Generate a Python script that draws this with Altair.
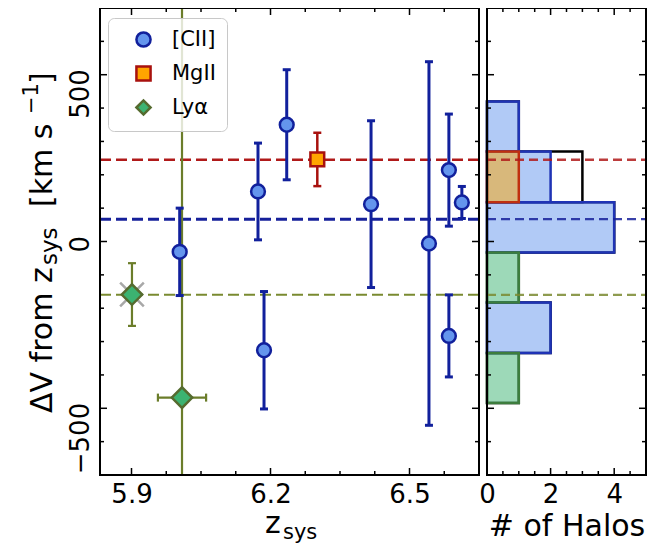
import altair as alt
import pandas as pd

FONT = "DejaVu Sans"

# ---------------- data ----------------
# [CII] haloes
cii_z = [6.004, 6.173, 6.235, 6.186, 6.417, 6.542, 6.585, 6.585, 6.613]
cii_dv = [-31, 150, 350, -326, 112, -6, 214, -283, 117]
cii_err = [131, 145, 165, 176, 250, 545, 168, 123, 48]
# MgII
mg_z = [6.301]
mg_dv = [246]
mg_err = [80]
# Ly-alpha
lya_z = [5.901, 6.009]
lya_dv = [-159, -468]
lya_err = [94, 2000]
lya_zerr = [0.0, 0.052]
# flagged (grey cross) object
flag_z = [5.901]
flag_dv = [-159]

# mean offsets (dashed lines)
mean_series = ["[CII]", "MgII", "Lyα"]
mean_dv = [67, 245, -160]

# histogram bins (edges in km/s, counts)
tot_lo = [270, 118, -33, -183, -334, -484]
tot_hi = [420, 270, 118, -33, -183, -334]
tot_n = [1, 3, 4, 1, 2, 1]
hcii_lo = [270, 118, -33, -334]
hcii_hi = [420, 270, 118, -183]
hcii_n = [1, 2, 4, 2]
hmg_lo = [118]
hmg_hi = [270]
hmg_n = [1]
hlya_lo = [-183, -484]
hlya_hi = [-33, -334]
hlya_n = [1, 1]

# tick values
y_major = [-500, 0, 500]
y_minor = [-600, -400, -300, -200, -100, 100, 200, 300, 400, 600]
zl_major = [5.9, 6.2, 6.5]
zl_minor = [5.975, 6.05, 6.125, 6.275, 6.35, 6.425, 6.575]
n_major = [0, 2, 4]
n_minor = [0.5, 1, 1.5, 2.5, 3, 3.5, 4.5]

series_dom = ["[CII]", "MgII", "Lyα"]

# ---------------- styles ----------------
CII_FILL, CII_EDGE = "#6495ed", "#11209c"
MG_FILL, MG_EDGE = "#ffa500", "#a8110e"
LYA_FILL, LYA_EDGE = "#3cb371", "#556b2f"
OLIVE = "#6b7d2a"
MEAN_COL = {"[CII]": "#16209a", "MgII": "#b01a1a", "Lyα": "#7a8a30"}
MEAN_W = {"[CII]": 3, "MgII": 2.5, "Lyα": 2}

W_L, R0, W, H = 379, 387, 546, 467
MAJ, MIN = 7, 4

xl_scale = alt.Scale(domain=[5.832, 6.65], range=[0, W_L], nice=False, zero=False)
xr_scale = alt.Scale(domain=[0, 5], range=[R0, W], nice=False, zero=False)
y_scale = alt.Scale(domain=[-700, 700], nice=False, zero=False)

common_lab = dict(labelFontSize=26, labelFont=FONT, labelColor="black",
                  labelFlush=False, labelOverlap=False, ticks=False,
                  domain=False, grid=False)
xl_axis = alt.Axis(orient="bottom", values=zl_major, format=".1f", title=None,
                   labelPadding=6, **common_lab)
xr_axis = alt.Axis(orient="bottom", values=n_major, format="d", title="# of Halos",
                   titleFontSize=30, titleFont=FONT, titleFontWeight="normal",
                   titleColor="black", titleBaseline="alphabetic", titleY=60,
                   labelPadding=6, **common_lab)
y_axis = alt.Axis(orient="left", values=y_major, title=None, labelAngle=270,
                  labelAlign="right", labelBaseline="bottom", labelPadding=7,
                  labelOffset=-6, **common_lab)


def XL(f):
    return alt.X(f, type="quantitative", scale=xl_scale, axis=xl_axis)


def XR(f):
    return alt.X(f, type="quantitative", scale=xr_scale, axis=xr_axis)


def Y(f):
    return alt.Y(f, type="quantitative", scale=y_scale, axis=y_axis)


leg = alt.Legend(title=None, orient="none", legendX=8, legendY=10,
                 fillColor="rgba(255,255,255,0.8)", strokeColor="#c8c8c8",
                 cornerRadius=6, padding=11, labelFontSize=21, labelFont=FONT,
                 labelColor="black", symbolSize=200, symbolStrokeWidth=2.5,
                 rowPadding=9, symbolOffset=14, labelOffset=18)
shape_sc = alt.Scale(domain=series_dom, range=["circle", "square", "diamond"])
fill_sc = alt.Scale(domain=series_dom, range=[CII_FILL, MG_FILL, LYA_FILL])
stroke_sc = alt.Scale(domain=series_dom, range=[CII_EDGE, MG_EDGE, LYA_EDGE])

one = pd.DataFrame({"k": [0]})

cii = pd.DataFrame({"z": cii_z, "dv": cii_dv, "err": cii_err, "series": "[CII]"})
mg = pd.DataFrame({"z": mg_z, "dv": mg_dv, "err": mg_err, "series": "MgII"})
lya = pd.DataFrame({"z": lya_z, "dv": lya_dv, "err": lya_err, "zerr": lya_zerr,
                    "series": "Lyα"})
flag = pd.DataFrame({"z": flag_z, "dv": flag_dv})
pts = pd.concat([cii, mg, lya[["z", "dv", "err", "series"]]], ignore_index=True)
means = pd.DataFrame({"series": mean_series, "dv": mean_dv})


def errbars(df, color, width, cap=8, clip=False):
    b = alt.Chart(df).transform_calculate(lo="datum.dv - datum.err",
                                          hi="datum.dv + datum.err")
    bar = b.mark_rule(color=color, strokeWidth=width, clip=clip).encode(
        x=XL("z"), y=Y("lo"), y2="hi:Q")
    c1 = b.mark_tick(orient="horizontal", size=cap, thickness=width, color=color,
                     opacity=1, clip=clip).encode(x=XL("z"), y=Y("lo"))
    c2 = b.mark_tick(orient="horizontal", size=cap, thickness=width, color=color,
                     opacity=1, clip=clip).encode(x=XL("z"), y=Y("hi"))
    return [bar, c1, c2]


def txt(s, x, y, size, angle=0, align="left"):
    return alt.Chart(one).mark_text(text=s, font=FONT, fontSize=size, angle=angle,
                                    align=align, baseline="alphabetic",
                                    color="black").encode(x=alt.value(x), y=alt.value(y))


def yticks(vals, x0, x1):
    d = pd.DataFrame({"v": vals})
    return alt.Chart(d).mark_rule(color="black", strokeWidth=1.5).encode(
        x=alt.value(x0), x2=alt.value(x1), y=Y("v"))


def xticks(vals, enc, length):
    d = pd.DataFrame({"v": vals})
    t = alt.Chart(d).mark_rule(color="black", strokeWidth=1.5).encode(
        x=enc("v"), y=alt.value(0), y2=alt.value(length))
    b = alt.Chart(d).mark_rule(color="black", strokeWidth=1.5).encode(
        x=enc("v"), y=alt.value(H - length), y2=alt.value(H))
    return [t, b]


# ---------------- left panel ----------------
left_layers = []
for s in mean_series:
    left_layers.append(
        alt.Chart(means[means.series == s]).mark_rule(
            color=MEAN_COL[s], strokeWidth=MEAN_W[s], strokeDash=[11, 5]).encode(
            y=Y("dv"), x=alt.value(0), x2=alt.value(W_L)))

left_layers += errbars(lya, OLIVE, 2.2, clip=True)
hb = alt.Chart(lya).transform_filter("datum.zerr > 0").transform_calculate(
    zlo="datum.z - datum.zerr", zhi="datum.z + datum.zerr")
left_layers.append(hb.mark_rule(color=OLIVE, strokeWidth=2.2).encode(
    x=XL("zlo"), x2="zhi:Q", y=Y("dv")))
left_layers.append(hb.mark_tick(orient="vertical", size=8, thickness=2.2, color=OLIVE,
                                opacity=1).encode(x=XL("zlo"), y=Y("dv")))
left_layers.append(hb.mark_tick(orient="vertical", size=8, thickness=2.2, color=OLIVE,
                                opacity=1).encode(x=XL("zhi"), y=Y("dv")))
left_layers += errbars(cii, CII_EDGE, 3)
left_layers += errbars(mg, MG_EDGE, 2.5)

left_layers.append(alt.Chart(flag).mark_point(
    shape="M-1,-1L1,1M-1,1L1,-1", filled=False, stroke="#a8a8a8", strokeWidth=2.5,
    size=560, opacity=1).encode(x=XL("z"), y=Y("dv")))

enc_pts = dict(x=XL("z"), y=Y("dv"),
               shape=alt.Shape("series:N", scale=shape_sc, legend=leg),
               fill=alt.Fill("series:N", scale=fill_sc, legend=leg),
               stroke=alt.Stroke("series:N", scale=stroke_sc, legend=leg))
left_layers.append(alt.Chart(pts).transform_filter("datum.series != 'Lyα'").mark_point(
    filled=True, size=190, strokeWidth=2.5, opacity=1, fillOpacity=1).encode(**enc_pts))
left_layers.append(alt.Chart(pts).transform_filter("datum.series == 'Lyα'").mark_point(
    filled=True, size=420, strokeWidth=2.5, opacity=1, fillOpacity=1).encode(**enc_pts))

# inward ticks, left panel
left_layers.append(yticks(y_major, 0, MAJ))
left_layers.append(yticks(y_minor, 0, MIN))
left_layers.append(yticks(y_major, W_L - MAJ, W_L))
left_layers.append(yticks(y_minor, W_L - MIN, W_L))
left_layers += xticks(zl_major, XL, MAJ)
left_layers += xticks(zl_minor, XL, MIN)

left_layers.append(alt.Chart(one).mark_rect(filled=False, stroke="black",
                                            strokeWidth=2).encode(
    x=alt.value(0), x2=alt.value(W_L), y=alt.value(0), y2=alt.value(H)))

# axis titles built from pieces (sub/superscripts)
left_layers += [
    txt("z", 165, 525, 30),
    txt("sys", 183, 531, 21),
    txt("ΔV from z", -48, 405, 30, angle=270),
    txt("sys", -43, 257, 23, angle=270),
    txt("[km s", -48, 199, 30, angle=270),
    txt("−1", -62, 106, 21, angle=270),
    txt("]", -48, 76, 30, angle=270),
]

left = alt.layer(*left_layers)

# ---------------- right panel ----------------
def hist(lo, hi, n, fill, stroke, fop):
    d = pd.DataFrame({"lo": lo, "hi": hi, "n": n})
    return alt.Chart(d).transform_calculate(c0="0").mark_rect(
        fill=fill, fillOpacity=fop, stroke=stroke, strokeWidth=2.5).encode(
        x=XR("c0"), x2="n:Q", y=Y("lo"), y2="hi:Q")


right_layers = [
    hist(tot_lo, tot_hi, tot_n, "white", "black", 0),
    hist(hcii_lo, hcii_hi, hcii_n, CII_FILL, "#1f33b5", 0.5),
    hist(hmg_lo, hmg_hi, hmg_n, MG_FILL, "#c0300f", 0.5),
    hist(hlya_lo, hlya_hi, hlya_n, LYA_FILL, "#3d7d3d", 0.5),
]
for s in mean_series:
    right_layers.append(
        alt.Chart(means[means.series == s]).mark_rule(
            color=MEAN_COL[s], strokeWidth=2.4, strokeDash=[9, 5], opacity=0.85).encode(
            y=Y("dv"), x=alt.value(R0), x2=alt.value(W)))

right_layers.append(yticks(y_major, R0, R0 + MAJ))
right_layers.append(yticks(y_minor, R0, R0 + MIN))
right_layers.append(yticks(y_major, W - MAJ, W))
right_layers.append(yticks(y_minor, W - MIN, W))
right_layers += xticks(n_major, XR, MAJ)
right_layers += xticks(n_minor, XR, MIN)
right_layers.append(alt.Chart(one).mark_rect(filled=False, stroke="black",
                                             strokeWidth=2).encode(
    x=alt.value(R0), x2=alt.value(W), y=alt.value(0), y2=alt.value(H)))

right = alt.layer(*right_layers)

chart = alt.layer(left, right).resolve_scale(x="independent").properties(
    width=W, height=H,
    padding={"left": 92, "top": 0, "right": 6, "bottom": 70},
    autosize=alt.AutoSizeParams(type="none"),
).configure_view(strokeWidth=0)

chart.save("out.html", embed_options={"renderer": "svg", "actions": False})
